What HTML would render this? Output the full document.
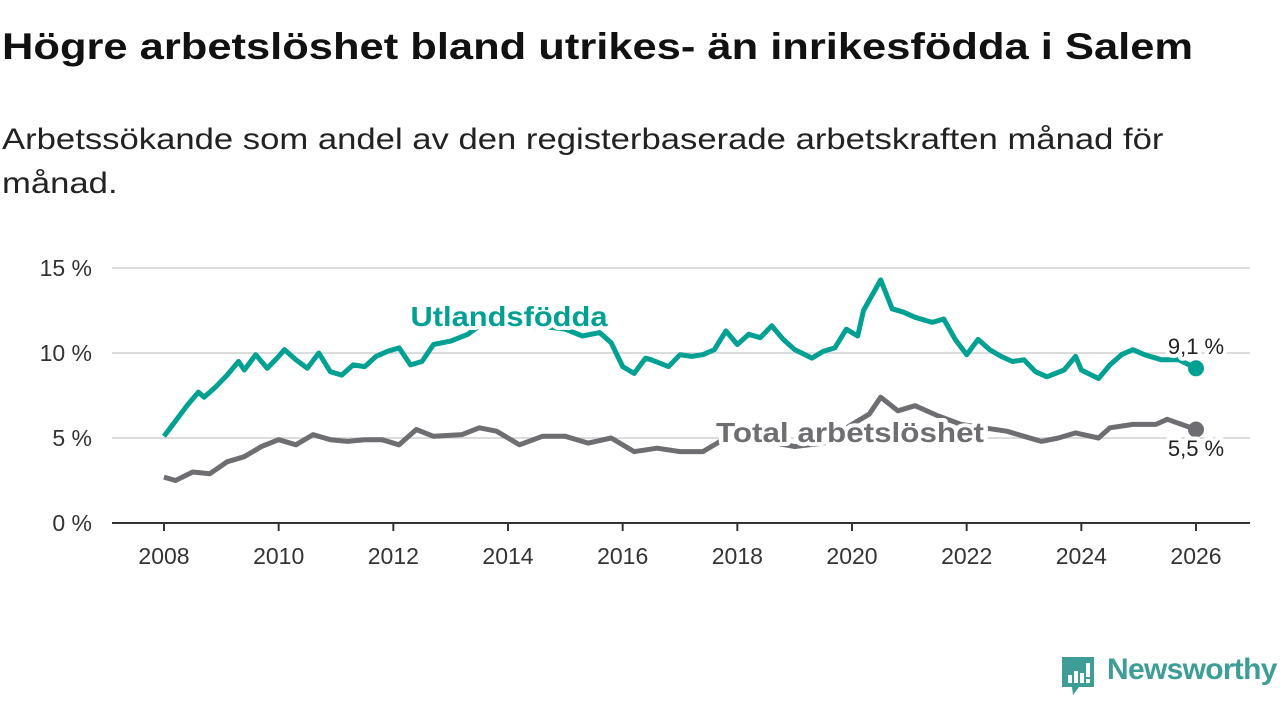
<!DOCTYPE html>
<html><head><meta charset="utf-8"><style>
body{margin:0;width:1280px;height:720px;background:#fff;font-family:"Liberation Sans",sans-serif;overflow:hidden;position:relative}
h1{position:absolute;left:2px;top:26px;margin:0;font-size:37px;font-weight:bold;color:#111;transform-origin:0 0;transform:scaleX(1.175);white-space:nowrap}
.sub{position:absolute;left:2px;top:118px;margin:0;font-size:30px;line-height:44px;color:#222;transform-origin:0 0;transform:scaleX(1.155);white-space:nowrap}
svg{position:absolute;left:0;top:0}
</style></head><body>
<h1>Högre arbetslöshet bland utrikes- än inrikesfödda i Salem</h1>
<p class="sub">Arbetssökande som andel av den registerbaserade arbetskraften månad för<br>månad.</p>
<svg id="chart" width="1280" height="720"></svg>
<script>
const yTicks=[0,5,10,15];
const xTicks=[2008,2010,2012,2014,2016,2018,2020,2022,2024,2026];
const utlT=[2008.0,2008.2,2008.4,2008.6,2008.7,2008.9,2009.1,2009.3,2009.4,2009.6,2009.8,2010.0,2010.1,2010.3,2010.5,2010.7,2010.9,2011.1,2011.3,2011.5,2011.7,2011.9,2012.1,2012.3,2012.5,2012.7,2013.0,2013.3,2013.5,2014.0,2014.5,2015.0,2015.3,2015.6,2015.8,2016.0,2016.2,2016.4,2016.5,2016.8,2017.0,2017.2,2017.4,2017.6,2017.8,2018.0,2018.2,2018.4,2018.6,2018.8,2019.0,2019.3,2019.5,2019.7,2019.9,2020.1,2020.2,2020.5,2020.7,2020.9,2021.1,2021.4,2021.6,2021.8,2022.0,2022.2,2022.4,2022.6,2022.8,2023.0,2023.2,2023.4,2023.7,2023.9,2024.0,2024.3,2024.5,2024.7,2024.9,2025.1,2025.4,2025.7,2026.0];
const utlV=[5.1,6.0,6.9,7.7,7.4,8.0,8.7,9.5,9.0,9.9,9.1,9.8,10.2,9.6,9.1,10.0,8.9,8.7,9.3,9.2,9.8,10.1,10.3,9.3,9.5,10.5,10.7,11.1,11.6,11.8,11.6,11.4,11.0,11.2,10.6,9.2,8.8,9.7,9.6,9.2,9.9,9.8,9.9,10.2,11.3,10.5,11.1,10.9,11.6,10.8,10.2,9.7,10.1,10.3,11.4,11.0,12.5,14.3,12.6,12.4,12.1,11.8,12.0,10.8,9.9,10.8,10.2,9.8,9.5,9.6,8.9,8.6,9.0,9.8,9.0,8.5,9.3,9.9,10.2,9.9,9.6,9.6,9.1];
const totT=[2008.0,2008.2,2008.5,2008.8,2009.1,2009.4,2009.7,2010.0,2010.3,2010.6,2010.9,2011.2,2011.5,2011.8,2012.1,2012.4,2012.7,2013.2,2013.5,2013.8,2014.2,2014.6,2015.0,2015.4,2015.8,2016.2,2016.6,2017.0,2017.4,2017.7,2018.0,2018.5,2019.0,2019.5,2020.0,2020.3,2020.5,2020.8,2021.1,2021.5,2021.9,2022.3,2022.7,2023.0,2023.3,2023.6,2023.9,2024.3,2024.5,2024.9,2025.3,2025.5,2026.0];
const totV=[2.7,2.5,3.0,2.9,3.6,3.9,4.5,4.9,4.6,5.2,4.9,4.8,4.9,4.9,4.6,5.5,5.1,5.2,5.6,5.4,4.6,5.1,5.1,4.7,5.0,4.2,4.4,4.2,4.2,4.8,5.0,4.8,4.5,4.7,5.8,6.4,7.4,6.6,6.9,6.3,5.8,5.6,5.4,5.1,4.8,5.0,5.3,5.0,5.6,5.8,5.8,6.1,5.5];
const NS='http://www.w3.org/2000/svg';
const svg=document.getElementById('chart');
const X=t=>164+(t-2008)*(1196-164)/18;
const Y=v=>523-v*17;
function mk(tag,attrs,text){const e=document.createElementNS(NS,tag);for(const k in attrs)e.setAttribute(k,attrs[k]);if(text!==undefined)e.textContent=text;svg.appendChild(e);return e;}
yTicks.forEach(v=>{
 if(v>0){const g=mk('line',{x1:112,x2:1250,y1:Y(v),y2:Y(v),stroke:'#dcdcdc','stroke-width':2});
 
 }
 const t=mk('text',{x:92,y:Y(v)+8,'text-anchor':'end','font-size':23,fill:'#333'},v+' %');
 
 
});
const ax=mk('line',{x1:112,x2:1250,y1:523,y2:523,stroke:'#333','stroke-width':2});


xTicks.forEach(y=>{
 const tk=mk('line',{x1:X(y),x2:X(y),y1:523,y2:531,stroke:'#333','stroke-width':2});
 
 
 const t=mk('text',{x:X(y),y:564,'text-anchor':'middle','font-size':23,fill:'#333'},y);
 
 
});
function line(T,V,color,name){
 const d=T.map((t,i)=>(i?'L':'M')+X(t).toFixed(1)+','+Y(V[i]).toFixed(1)).join('');
 const p=mk('path',{d:d,fill:'none',stroke:color,'stroke-width':5,'stroke-linejoin':'round'});
 
 
 const c=mk('circle',{cx:X(T[T.length-1]),cy:Y(V[V.length-1]),r:8,fill:color});
 
 
}
line(totT,totV,'#6e6d72','series-total');
line(utlT,utlV,'#00a093','series-utlandsfodda');
function label(x,y,txt,color,name,size,weight,anchor,len){
 const a={x:x,y:y,'font-size':size,'font-weight':weight,fill:color,stroke:'#fff','stroke-width':8,'paint-order':'stroke','stroke-linejoin':'round','text-anchor':anchor};
 if(len){a.textLength=len;a.lengthAdjust='spacingAndGlyphs';}
 const t=mk('text',a,txt);
 
 
}
label(509,326,'Utlandsfödda','#00a093','label-utlandsfodda',28,'bold','middle',197);
label(850,442,'Total arbetslöshet','#6e6d72','label-total',28,'bold','middle',268);
label(1196,354,'9,1 %','#222','end-value-utlandsfodda',22,'normal','middle');
label(1196,456,'5,5 %','#222','end-value-total',22,'normal','middle');
</script>
<svg width="40" height="44" style="left:1059px;top:655px">
<path d="M3 2h32v30H20l-6 8-1-8H3z" fill="#3e9d96"/>
<rect x="9" y="20" width="4" height="8" fill="#fff"/><rect x="15" y="16" width="4" height="12" fill="#fff"/><rect x="21" y="18" width="4" height="10" fill="#fff"/><rect x="27" y="8" width="4" height="14" fill="#fff"/><rect x="27" y="24" width="4" height="4" fill="#fff"/>
</svg>
<div style="position:absolute;left:1107px;top:653px;font-size:30px;color:#3e9d96;font-weight:bold;letter-spacing:-0.7px">Newsworthy</div>
</body></html>
